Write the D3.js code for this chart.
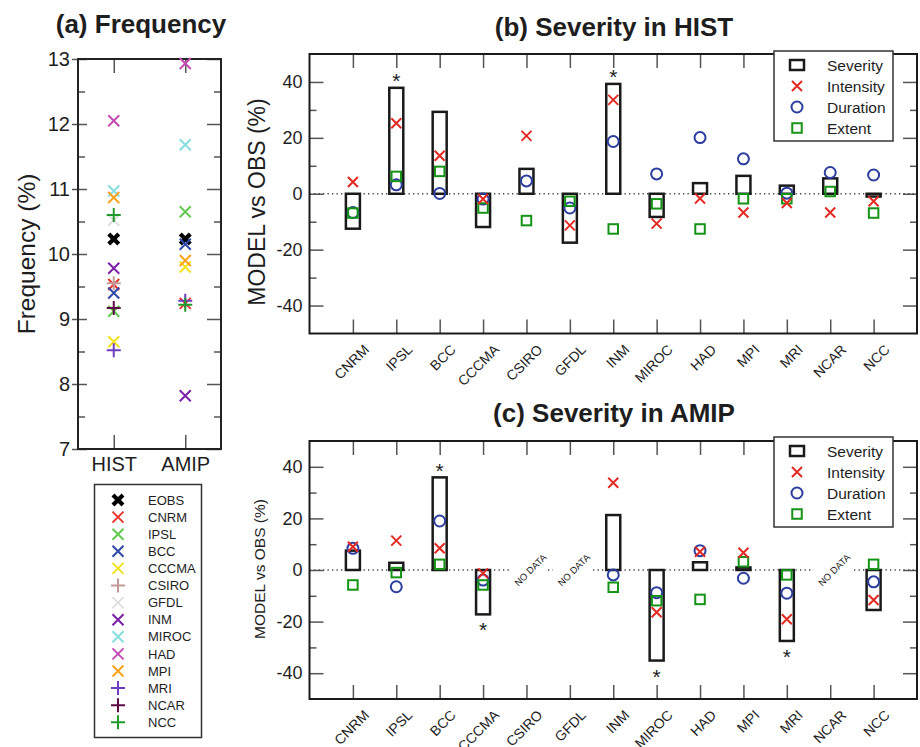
<!DOCTYPE html>
<html>
<head>
<meta charset="utf-8">
<script src="https://d3js.org/d3.v7.min.js"></script>
<style>
  body { margin: 0; background: #fff; }
  text { font-family: "Liberation Sans", Arial, sans-serif; fill: #1e1e1e; }
</style>
</head>
<body>
<div id="container"></div>
<script>
// ---- data ----
var freqNames = ["EOBS", "CNRM", "IPSL", "BCC", "CCCMA", "CSIRO", "GFDL", "INM", "MIROC", "HAD", "MPI", "MRI", "NCAR", "NCC"];
var freqRuns = ["HIST", "AMIP"];
var freqHist = [10.23, 9.53, 9.12, 9.40, 8.65, 9.55, 10.52, 9.78, 10.97, 12.05, 10.87, 8.52, 9.17, 10.60];
var freqAmip = [10.23, 9.24, 10.65, 10.15, 9.80, null, null, 7.82, 11.68, 12.93, 9.90, 9.28, null, 9.22];
var freqTicks = [7, 8, 9, 10, 11, 12, 13];

var models = ["CNRM", "IPSL", "BCC", "CCCMA", "CSIRO", "GFDL", "INM", "MIROC", "HAD", "MPI", "MRI", "NCAR", "NCC"];
var sevTicks = [-40, -20, 0, 20, 40];
var measures = ["Severity", "Intensity", "Duration", "Extent"];

var sevHist = [-12.5, 37.9, 29.3, -11.9, 8.9, -17.5, 39.3, -8.3, 3.8, 6.4, 2.9, 5.5, -1.0];
var intHist = [4.2, 25.2, 13.6, -1.9, 20.7, -11.3, 33.6, -10.7, -1.7, -6.7, -3.3, -6.7, -2.7];
var durHist = [-6.7, 3.2, 0.1, -1.9, 4.6, -5.1, 18.7, 7.1, 20.1, 12.5, 0.2, 7.6, 6.7];
var extHist = [-6.9, 6.2, 8.0, -5.1, -9.6, -2.7, -12.6, -3.6, -12.6, -1.8, -1.8, 0.8, -6.9];
var sigHist = ["IPSL", "INM"];

var sevAmip = [7.5, 2.8, 35.9, -17.2, null, null, 21.3, -35.1, 3.0, 1.0, -27.5, null, -15.5];
var intAmip = [9.0, 11.4, 8.4, -1.3, null, null, 33.8, -16.4, 7.1, 6.7, -19.1, null, -11.6];
var durAmip = [8.4, -6.5, 19.0, -3.9, null, null, -1.9, -8.8, 7.5, -3.2, -9.0, null, -4.6];
var extAmip = [-5.8, -1.0, 2.2, -5.8, null, null, -6.7, -11.9, -11.4, 3.2, -1.9, null, 2.2];
var sigAmip = ["BCC", "CCCMA", "MIROC", "MRI"];

// ---- styles ----
var freqColors = ["#000000", "#e8352b", "#62c84e", "#2e47a8", "#f2e21e", "#c29a9a", "#dedede",
                  "#7b1fa8", "#86dede", "#c44bb5", "#fba21d", "#6f3dc2", "#5e0b45", "#1f9a2a"];
var freqShapes = ["bold", "x", "x", "x", "x", "plus", "x", "x", "x", "x", "x", "plus", "plus", "plus"];
var red = "#e32a22", blue = "#2b3d9f", green = "#149414";

var svg = d3.select("#container")
  .append("svg")
    .attr("width", 920)
    .attr("height", 747);

function crossPath(s) { return "M" + (-s) + "," + (-s) + "L" + s + "," + s + "M" + (-s) + "," + s + "L" + s + "," + (-s); }
function plusPath(s) { return "M" + (-s) + ",0L" + s + ",0M0," + (-s) + "L0," + s; }

function freqMarker(sel, shape, color) {
  sel.append("path")
    .attr("d", shape == "plus" ? plusPath(7) : shape == "bold" ? crossPath(5) : crossPath(5.5))
    .attr("fill", "none")
    .attr("stroke", color)
    .attr("stroke-width", shape == "bold" ? 4.2 : 2);
}

function styleAxis(g, size) {
  g.select(".domain").remove();
  g.selectAll("line").attr("stroke", "#555").attr("stroke-width", 1.5);
  g.selectAll("text").style("font-size", size);
}

// ================= (a) Frequency =================
var ya = d3.scaleLinear().domain([7, 13]).range([449, 59]);
var xa = d3.scalePoint().domain(freqRuns).range([78, 221]).padding(0.5);
var minorA = d3.range(7.5, 13, 1);
var fmt = function(d) { return String(d); };

svg.append("text")
  .attr("x", 141).attr("y", 33)
  .attr("text-anchor", "middle")
  .style("font-size", "26px").style("font-weight", "bold")
  .text("(a) Frequency");

svg.append("text")
  .attr("transform", "translate(35,254) rotate(-90)")
  .attr("text-anchor", "middle")
  .style("font-size", "24.5px")
  .text("Frequency (%)");

svg.append("g").attr("transform", "translate(78,0)")
  .call(d3.axisLeft(ya).tickValues(freqTicks).tickSize(-9).tickPadding(8).tickFormat(fmt))
  .call(styleAxis, "20px");
svg.append("g").attr("transform", "translate(78,0)")
  .call(d3.axisLeft(ya).tickValues(freqTicks).tickSize(6).tickFormat(""))
  .call(styleAxis, "20px");
svg.append("g").attr("transform", "translate(78,0)")
  .call(d3.axisLeft(ya).tickValues(minorA).tickSize(-7).tickFormat(""))
  .call(styleAxis, "20px");
svg.append("g").attr("transform", "translate(221,0)")
  .call(d3.axisRight(ya).tickValues(freqTicks).tickSize(-14).tickFormat(""))
  .call(styleAxis, "20px");
svg.append("g").attr("transform", "translate(221,0)")
  .call(d3.axisRight(ya).tickValues(minorA).tickSize(-7).tickFormat(""))
  .call(styleAxis, "20px");
svg.append("g").attr("transform", "translate(0,59)")
  .call(d3.axisTop(xa).tickSize(-14).tickFormat(""))
  .call(styleAxis, "20px");
svg.append("g").attr("transform", "translate(0,449)")
  .call(d3.axisBottom(xa).tickSize(-14).tickPadding(8))
  .call(styleAxis, "20px");

svg.append("rect")
  .attr("x", 78).attr("y", 59).attr("width", 143).attr("height", 390)
  .attr("fill", "none").attr("stroke", "#222").attr("stroke-width", 2);

[freqHist, freqAmip].forEach(function(vals, k) {
  vals.forEach(function(v, i) {
    if (v == null) return;
    var m = svg.append("g").attr("transform", "translate(" + xa(freqRuns[k]) + "," + ya(v) + ")");
    freqMarker(m, freqShapes[i], freqColors[i]);
  });
});

// legend (a)
svg.append("rect")
  .attr("x", 94.5).attr("y", 484.5).attr("width", 107).attr("height", 253)
  .attr("fill", "none").attr("stroke", "#333").attr("stroke-width", 1.5);
freqNames.forEach(function(name, i) {
  var yy = 500 + i * 17.1;
  var m = svg.append("g").attr("transform", "translate(118," + yy + ")");
  freqMarker(m, freqShapes[i], freqColors[i]);
  svg.append("text").attr("x", 148).attr("y", yy).attr("dy", "0.36em")
    .style("font-size", "13px").text(name);
});

// ================= (b) and (c) Severity =================
var left = 309.5, right = 917;
var x = d3.scalePoint().domain(models).range([left, right]).padding(1);

function drawMeasure(g, kind, px, py) {
  var m = g.append("g").attr("transform", "translate(" + px + "," + py + ")");
  if (kind == "Severity") {
    m.append("rect").attr("x", -7).attr("y", -5).attr("width", 14).attr("height", 10)
      .attr("fill", "none").attr("stroke", "#1a1a1a").attr("stroke-width", 2.5);
  } else if (kind == "Intensity") {
    m.append("path").attr("d", crossPath(5)).attr("fill", "none").attr("stroke", red).attr("stroke-width", 2);
  } else if (kind == "Duration") {
    m.append("circle").attr("r", 5.5).attr("fill", "none").attr("stroke", blue).attr("stroke-width", 2);
  } else {
    m.append("rect").attr("x", -4.75).attr("y", -4.75).attr("width", 9.5).attr("height", 9.5)
      .attr("fill", "none").attr("stroke", green).attr("stroke-width", 2);
  }
}

function drawSeverity(p) {
  var y = d3.scaleLinear().domain([-50, 50]).range([p.bottom, p.top]);
  var g = svg.append("g");

  g.append("text")
    .attr("x", 614).attr("y", p.titleY)
    .attr("text-anchor", "middle")
    .style("font-size", "26px").style("font-weight", "bold")
    .text(p.title);

  g.append("text")
    .attr("transform", "translate(265," + p.labelY + ") rotate(-90)")
    .attr("text-anchor", "middle")
    .style("font-size", p.labelSize)
    .text("MODEL vs OBS (%)");

  // axes, ticks pointing inward
  g.append("g").attr("transform", "translate(" + left + ",0)")
    .call(d3.axisLeft(y).tickValues(sevTicks).tickSize(-14).tickPadding(7).tickFormat(fmt))
    .call(styleAxis, "18px");
  g.append("g").attr("transform", "translate(" + left + ",0)")
    .call(d3.axisLeft(y).tickValues([-30, -10, 10, 30]).tickSize(-7).tickFormat(""))
    .call(styleAxis, "18px");
  g.append("g").attr("transform", "translate(" + right + ",0)")
    .call(d3.axisRight(y).tickValues(sevTicks).tickSize(-14).tickFormat(""))
    .call(styleAxis, "18px");
  g.append("g").attr("transform", "translate(" + right + ",0)")
    .call(d3.axisRight(y).tickValues([-30, -10, 10, 30]).tickSize(-7).tickFormat(""))
    .call(styleAxis, "18px");
  g.append("g").attr("transform", "translate(0," + p.top + ")")
    .call(d3.axisTop(x).tickSize(-14).tickFormat(""))
    .call(styleAxis, "14px");
  g.append("g").attr("transform", "translate(0," + p.bottom + ")")
    .call(d3.axisBottom(x).tickSize(-14).tickFormat(""))
    .call(styleAxis, "14px");

  // slanted category labels
  g.selectAll(".xlab")
    .data(models)
    .enter()
    .append("text")
      .attr("class", "xlab")
      .attr("transform", function(d) { return "translate(" + (x(d) + 17) + "," + (p.bottom + 17) + ") rotate(-45)"; })
      .attr("text-anchor", "end")
      .style("font-size", "14px")
      .text(function(d) { return d; });

  // zero line
  g.append("line")
    .attr("x1", left).attr("x2", right).attr("y1", y(0)).attr("y2", y(0))
    .attr("stroke", "#444").attr("stroke-width", 1.3).attr("stroke-dasharray", "1.3,3.2");

  // NO DATA labels
  models.forEach(function(mname, i) {
    if (p.sev[i] != null) return;
    g.append("rect").attr("x", x(mname) - 17).attr("y", y(0) - 2.5).attr("width", 38).attr("height", 5).attr("fill", "#fff");
    g.append("text")
      .attr("transform", "translate(" + (x(mname) + 4) + "," + y(0) + ") rotate(-45)")
      .attr("text-anchor", "middle").attr("dy", "0.35em")
      .style("font-size", "9.5px")
      .text("NO DATA");
  });

  // severity bars
  g.selectAll(".sevbar")
    .data(models.filter(function(d, i) { return p.sev[i] != null; }))
    .enter()
    .append("rect")
      .attr("class", "sevbar")
      .attr("x", function(d) { return x(d) - 7; })
      .attr("y", function(d) { return y(Math.max(0, p.sev[models.indexOf(d)])); })
      .attr("width", 14)
      .attr("height", function(d) { return Math.abs(y(0) - y(p.sev[models.indexOf(d)])); })
      .attr("fill", "none")
      .attr("stroke", "#1a1a1a")
      .attr("stroke-width", 2.5);

  // significance stars
  models.forEach(function(mname, i) {
    if (p.sig.indexOf(mname) < 0) return;
    var v = p.sev[i];
    var cy = v > 0 ? y(v) - 11 : y(v) + 11.5;
    g.append("text").attr("x", x(mname)).attr("y", cy + 11.5)
      .attr("text-anchor", "middle").style("font-size", "21px").text("*");
  });

  // markers
  [["Duration", p.dur], ["Extent", p.ext], ["Intensity", p.inten]].forEach(function(s) {
    s[1].forEach(function(v, i) {
      if (v == null) return;
      drawMeasure(g, s[0], x(models[i]), y(v));
    });
  });

  // frame
  g.append("rect")
    .attr("x", left).attr("y", p.top).attr("width", right - left).attr("height", p.bottom - p.top)
    .attr("fill", "none").attr("stroke", "#1a1a1a").attr("stroke-width", 2);

  // legend
  g.append("rect")
    .attr("x", 774).attr("y", p.legTop).attr("width", 119).attr("height", 90)
    .attr("fill", "#fff").attr("stroke", "#333").attr("stroke-width", 1.5);
  measures.forEach(function(mm, i) {
    var yy = p.legTop + 14 + i * 21;
    drawMeasure(g, mm, 797, yy);
    g.append("text").attr("x", 827).attr("y", yy).attr("dy", "0.36em")
      .style("font-size", "15.5px").text(mm);
  });
}

drawSeverity({top: 54, bottom: 333.5, titleY: 36, title: "(b) Severity in HIST",
  labelY: 202, labelSize: "23px", legTop: 51,
  sev: sevHist, inten: intHist, dur: durHist, ext: extHist, sig: sigHist});

drawSeverity({top: 441, bottom: 699, titleY: 422, title: "(c) Severity in AMIP",
  labelY: 569, labelSize: "15.5px", legTop: 437,
  sev: sevAmip, inten: intAmip, dur: durAmip, ext: extAmip, sig: sigAmip});
</script>
</body>
</html>
